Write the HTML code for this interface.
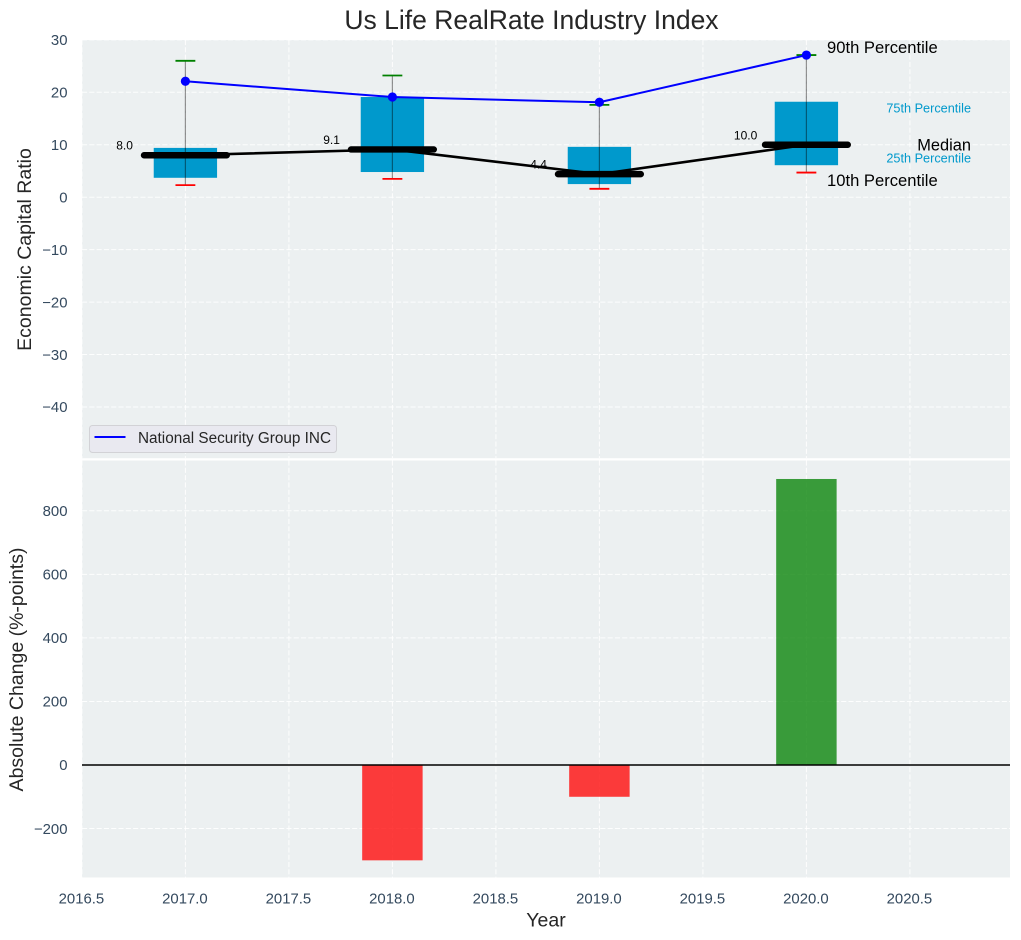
<!DOCTYPE html>
<html lang="en">
<head>
<meta charset="utf-8">
<title>Us Life RealRate Industry Index</title>
<style>
html,body{margin:0;padding:0;background:#fff;}
svg{display:block;font-family:"Liberation Sans",Arial,sans-serif;}
</style>
</head>
<body>
<svg id="chart" xmlns="http://www.w3.org/2000/svg" width="1021" height="940" viewBox="0 0 1021 940">
  <rect x="0" y="0" width="1021" height="940" fill="#ffffff"/>
  <rect x="82" y="40" width="928" height="418.2" fill="#ecf0f1"/>
  <rect x="82" y="460.5" width="928" height="417" fill="#ecf0f1"/>
  <g id="grid"></g>
  <g id="bars"></g>
  <g id="boxes"></g>
  <g id="ticks" font-size="14.9" fill="#34495e"></g>
  <text x="531.5" y="29" text-anchor="middle" font-size="26.5" fill="#262626">Us Life RealRate Industry Index</text>
  <text transform="translate(31,249.5) rotate(-90)" text-anchor="middle" font-size="19.5" fill="#262626">Economic Capital Ratio</text>
  <text transform="translate(23,669.5) rotate(-90)" text-anchor="middle" font-size="19.5" fill="#262626">Absolute Change (%-points)</text>
  <text x="546" y="926.5" text-anchor="middle" font-size="19.5" fill="#262626">Year</text>
  <g>
    <rect x="89.5" y="425.5" width="247" height="27" rx="3" fill="#e9e9f0" stroke="#d2d2d6" stroke-width="1"/>
    <line x1="94.5" y1="437" x2="125.5" y2="437" stroke="#0000ff" stroke-width="2"/>
    <text x="138" y="443" font-size="15.3" fill="#262626">National Security Group INC</text>
  </g>
</svg>
<script>
var years = [2017, 2018, 2019, 2020];
var p10 = [2.3, 3.5, 1.6, 4.7];
var p25 = [3.7, 4.8, 2.5, 6.1];
var median = [8.0, 9.1, 4.4, 10.0];
var p75 = [9.4, 19.1, 9.6, 18.2];
var p90 = [26.0, 23.2, 17.6, 27.1];
var company = [22.1, 19.1, 18.1, 27.1];
var absoluteChange = [0, -300, -100, 900];
var xTicks = [2016.5, 2017, 2017.5, 2018, 2018.5, 2019, 2019.5, 2020, 2020.5];
var topYTicks = [30, 20, 10, 0, -10, -20, -30, -40];
var bottomYTicks = [800, 600, 400, 200, 0, -200];

var NS = 'http://www.w3.org/2000/svg';
function x(v) { return 185.4 + (v - 2017) * 207; }
function yTop(v) { return 197.2 - v * 5.245; }
function yBottom(v) { return 765 - v * 0.3178; }
function make(tag, attrs, parent) {
  var e = document.createElementNS(NS, tag);
  for (var k in attrs) e.setAttribute(k, attrs[k]);
  parent.appendChild(e);
  return e;
}
function minus(v) { return String(v).replace('-', '\u2212'); }

var gridG = document.getElementById('grid');
var barsG = document.getElementById('bars');
var boxesG = document.getElementById('boxes');
var ticksG = document.getElementById('ticks');
var gridStyle = { stroke: '#ffffff', 'stroke-width': 1, 'stroke-dasharray': '5.1 2.2', 'stroke-opacity': 0.9 };

function gridLine(x1, y1, x2, y2) {
  var a = { x1: x1, y1: y1, x2: x2, y2: y2 };
  for (var k in gridStyle) a[k] = gridStyle[k];
  return make('line', a, gridG);
}

xTicks.forEach(function (t) {
  var g1 = gridLine(x(t), 40, x(t), 458);
  
  
  var g2 = gridLine(x(t), 460.5, x(t), 877.5);
  
  
  var lab = make('text', { x: x(t) - 0.5, y: 903.3, 'text-anchor': 'middle' }, ticksG);
  
  
  lab.textContent = t.toFixed(1);
});
topYTicks.forEach(function (t) {
  var g = gridLine(82, yTop(t), 1010, yTop(t));
  
  
  var lab = make('text', { x: 67.5, y: yTop(t) + 5.2, 'text-anchor': 'end' }, ticksG);
  
  
  lab.textContent = minus(t);
});
bottomYTicks.forEach(function (t) {
  var g = gridLine(82, yBottom(t), 1010, yBottom(t));
  
  
  var lab = make('text', { x: 67.5, y: yBottom(t) + 5.2, 'text-anchor': 'end' }, ticksG);
  
  
  lab.textContent = minus(t);
});

/* bottom panel bars */
years.forEach(function (yr, i) {
  var v = absoluteChange[i];
  if (v === 0) return;
  var top = Math.min(yBottom(v), yBottom(0));
  var h = Math.abs(yBottom(v) - yBottom(0));
  var b = make('rect', { x: x(yr - 0.146), y: top, width: x(yr + 0.146) - x(yr - 0.146), height: h,
    fill: v > 0 ? '#008000' : '#ff0000', 'fill-opacity': 0.76 }, barsG);
  
  
});
var zero = make('line', { x1: 82, y1: yBottom(0), x2: 1010, y2: yBottom(0), stroke: '#000000', 'stroke-width': 1.4 }, barsG);



/* top panel boxes */
years.forEach(function (yr, i) {
  var b = make('rect', { x: x(yr - 0.153), y: yTop(p75[i]), width: x(yr + 0.153) - x(yr - 0.153),
    height: yTop(p25[i]) - yTop(p75[i]), fill: '#0099cc' }, boxesG);
  
  
});
years.forEach(function (yr, i) {
  var w = make('line', { x1: x(yr), y1: yTop(p90[i]), x2: x(yr), y2: yTop(p10[i]), stroke: '#000000', 'stroke-opacity': 0.42, 'stroke-width': 1.2 }, boxesG);
  
  
  var hi = make('line', { x1: x(yr - 0.048), y1: yTop(p90[i]), x2: x(yr + 0.048), y2: yTop(p90[i]), stroke: '#008000', 'stroke-width': 1.8 }, boxesG);
  
  
  var lo = make('line', { x1: x(yr - 0.048), y1: yTop(p10[i]), x2: x(yr + 0.048), y2: yTop(p10[i]), stroke: '#ff0000', 'stroke-width': 1.8 }, boxesG);
  
  
  var lab = make('text', { x: x(yr) - 60.8, y: yTop(median[i]) - 5.5, 'text-anchor': 'middle', 'font-size': 12, fill: '#000000' }, boxesG);
  
  
  lab.textContent = median[i].toFixed(1);
});

function pointsOf(series) {
  return years.map(function (yr, i) { return x(yr) + ',' + yTop(series[i]); }).join(' ');
}
var medLine = make('polyline', { points: pointsOf(median), fill: 'none', stroke: '#000000', 'stroke-width': 2.6 }, boxesG);


years.forEach(function (yr, i) {
  var m = make('line', { x1: x(yr - 0.2), y1: yTop(median[i]), x2: x(yr + 0.2), y2: yTop(median[i]), stroke: '#000000', 'stroke-width': 6.4, 'stroke-linecap': 'round' }, boxesG);
  
  
});
var compLine = make('polyline', { points: pointsOf(company), fill: 'none', stroke: '#0000ff', 'stroke-width': 2 }, boxesG);


years.forEach(function (yr, i) {
  var c = make('circle', { cx: x(yr), cy: yTop(company[i]), r: 4.6, fill: '#0000ff' }, boxesG);
  
  
});

/* percentile annotations anchored to the last year */
var last = years.length - 1;
var a90 = make('text', { x: 827, y: yTop(p90[last]) - 2.2, 'font-size': 16.6, fill: '#000000' }, boxesG);


a90.textContent = '90th Percentile';
var a10 = make('text', { x: 827, y: yTop(p10[last]) + 13.5, 'font-size': 16.6, fill: '#000000' }, boxesG);


a10.textContent = '10th Percentile';
var aMed = make('text', { x: 971, y: yTop(median[last]) + 5.8, 'text-anchor': 'end', 'font-size': 16.4, fill: '#000000' }, boxesG);


aMed.textContent = 'Median';
var a75 = make('text', { x: 971, y: yTop(p75[last]) + 10.8, 'text-anchor': 'end', 'font-size': 12.7, fill: '#0099cc' }, boxesG);


a75.textContent = '75th Percentile';
var a25 = make('text', { x: 971, y: yTop(p25[last]) - 2.7, 'text-anchor': 'end', 'font-size': 12.7, fill: '#0099cc' }, boxesG);


a25.textContent = '25th Percentile';
</script>
</body>
</html>
